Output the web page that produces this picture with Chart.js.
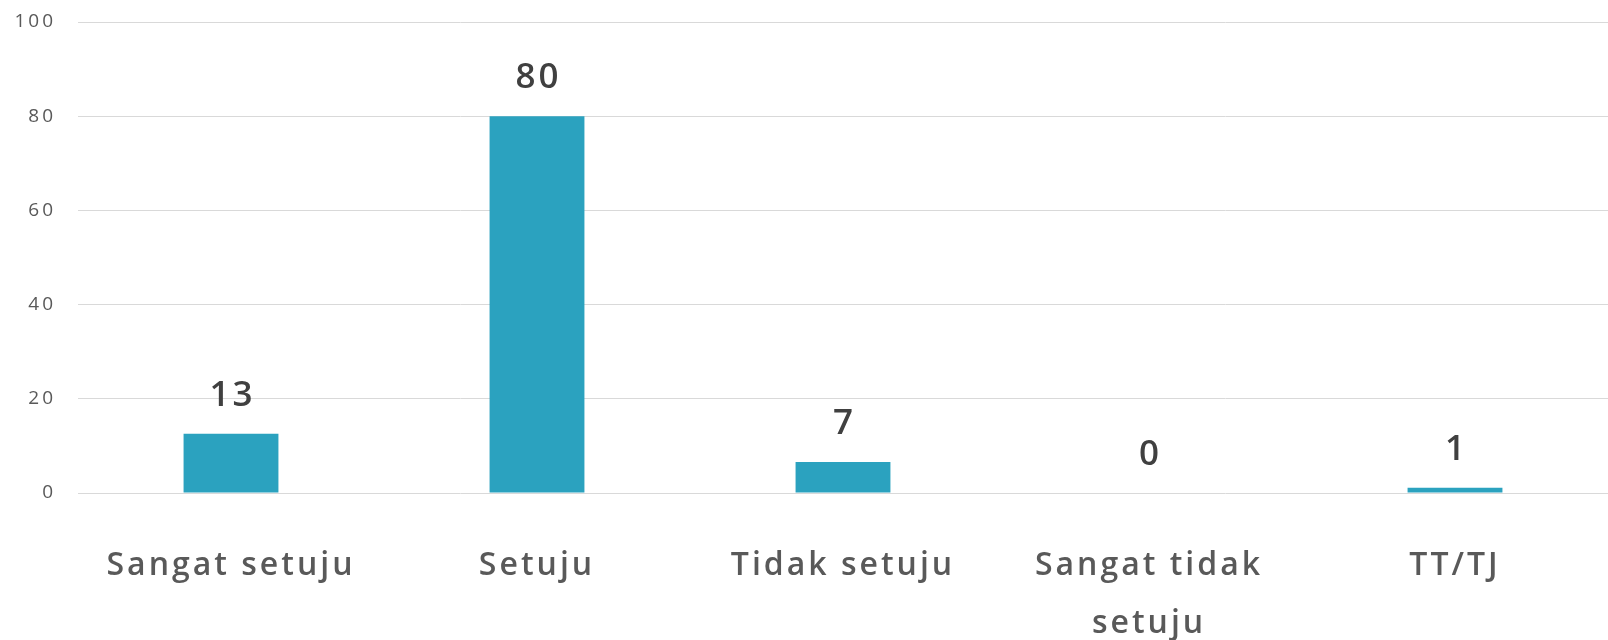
<!DOCTYPE html>
<html>
<head>
<meta charset="utf-8">
<script src="https://cdn.jsdelivr.net/npm/chart.js@4.4.0/dist/chart.umd.min.js"></script>
<style>
html,body{margin:0;padding:0;background:#fff;}
#wrap{width:1608px;height:640px;position:relative;}
</style>
</head>
<body>
<div id="wrap"><canvas id="c" width="1608" height="640"></canvas></div>
<script>
const categories = [["Sangat setuju"], ["Setuju"], ["Tidak setuju"], ["Sangat tidak", "setuju"], ["TT/TJ"]];
const values = [12.6, 80, 6.6, 0, 1.1];
const valueLabels = ["13", "80", "7", "0", "1"];
const yTicks = [0, 20, 40, 60, 80, 100];

const spacingPlugin = {
  id: 'spacing',
  beforeDraw(chart) {
    if ('letterSpacing' in chart.ctx) chart.ctx.letterSpacing = '3px';
  }
};

const valueLabelPlugin = {
  id: 'valueLabels',
  afterDatasetsDraw(chart) {
    const ctx = chart.ctx;
    const meta = chart.getDatasetMeta(0);
    ctx.save();
    if ('letterSpacing' in ctx) ctx.letterSpacing = '3px';
    ctx.font = '600 35px "Open Sans", sans-serif';
    ctx.fillStyle = '#404040';
    ctx.textAlign = 'center';
    ctx.textBaseline = 'alphabetic';
    meta.data.forEach((bar, i) => {
      ctx.fillText(valueLabels[i], bar.x + 1.5, bar.y - 28);
    });
    ctx.restore();
  }
};

new Chart(document.getElementById('c'), {
  type: 'bar',
  data: {
    labels: categories,
    datasets: [{
      data: values,
      backgroundColor: '#2ba2bf',
      borderWidth: 0,
      barPercentage: 0.62,
      categoryPercentage: 0.5
    }]
  },
  options: {
    responsive: false,
    animation: false,
    layout: { padding: { top: 22, right: 0, left: 0, bottom: 0 } },
    plugins: { legend: { display: false }, tooltip: { enabled: false } },
    scales: {
      x: {
        grid: { display: false, drawTicks: false },
        border: { display: false },
        ticks: {
          color: '#595959',
          font: { family: '"Open Sans", sans-serif', size: 32, weight: '600', lineHeight: 1.8 },
          padding: 44,
          maxRotation: 0,
          autoSkip: false
        },
        afterFit(s) { s.height = 147; s.paddingTop = 0; s.paddingBottom = 0; s.paddingLeft = 0; s.paddingRight = 0; }
      },
      y: {
        min: 0, max: 100,
        afterBuildTicks(s) { s.ticks = yTicks.map(v => ({ value: v })); },
        grid: { color: '#d9d9d9', lineWidth: 1, drawTicks: false },
        border: { display: false },
        ticks: {
          color: '#595959',
          font: { family: '"Open Sans", sans-serif', size: 19 },
          padding: 22
        },
        afterFit(s) { s.width = 78; s.paddingTop = 0; s.paddingBottom = 0; }
      }
    }
  },
  plugins: [spacingPlugin, valueLabelPlugin]
});
</script>
</body>
</html>
